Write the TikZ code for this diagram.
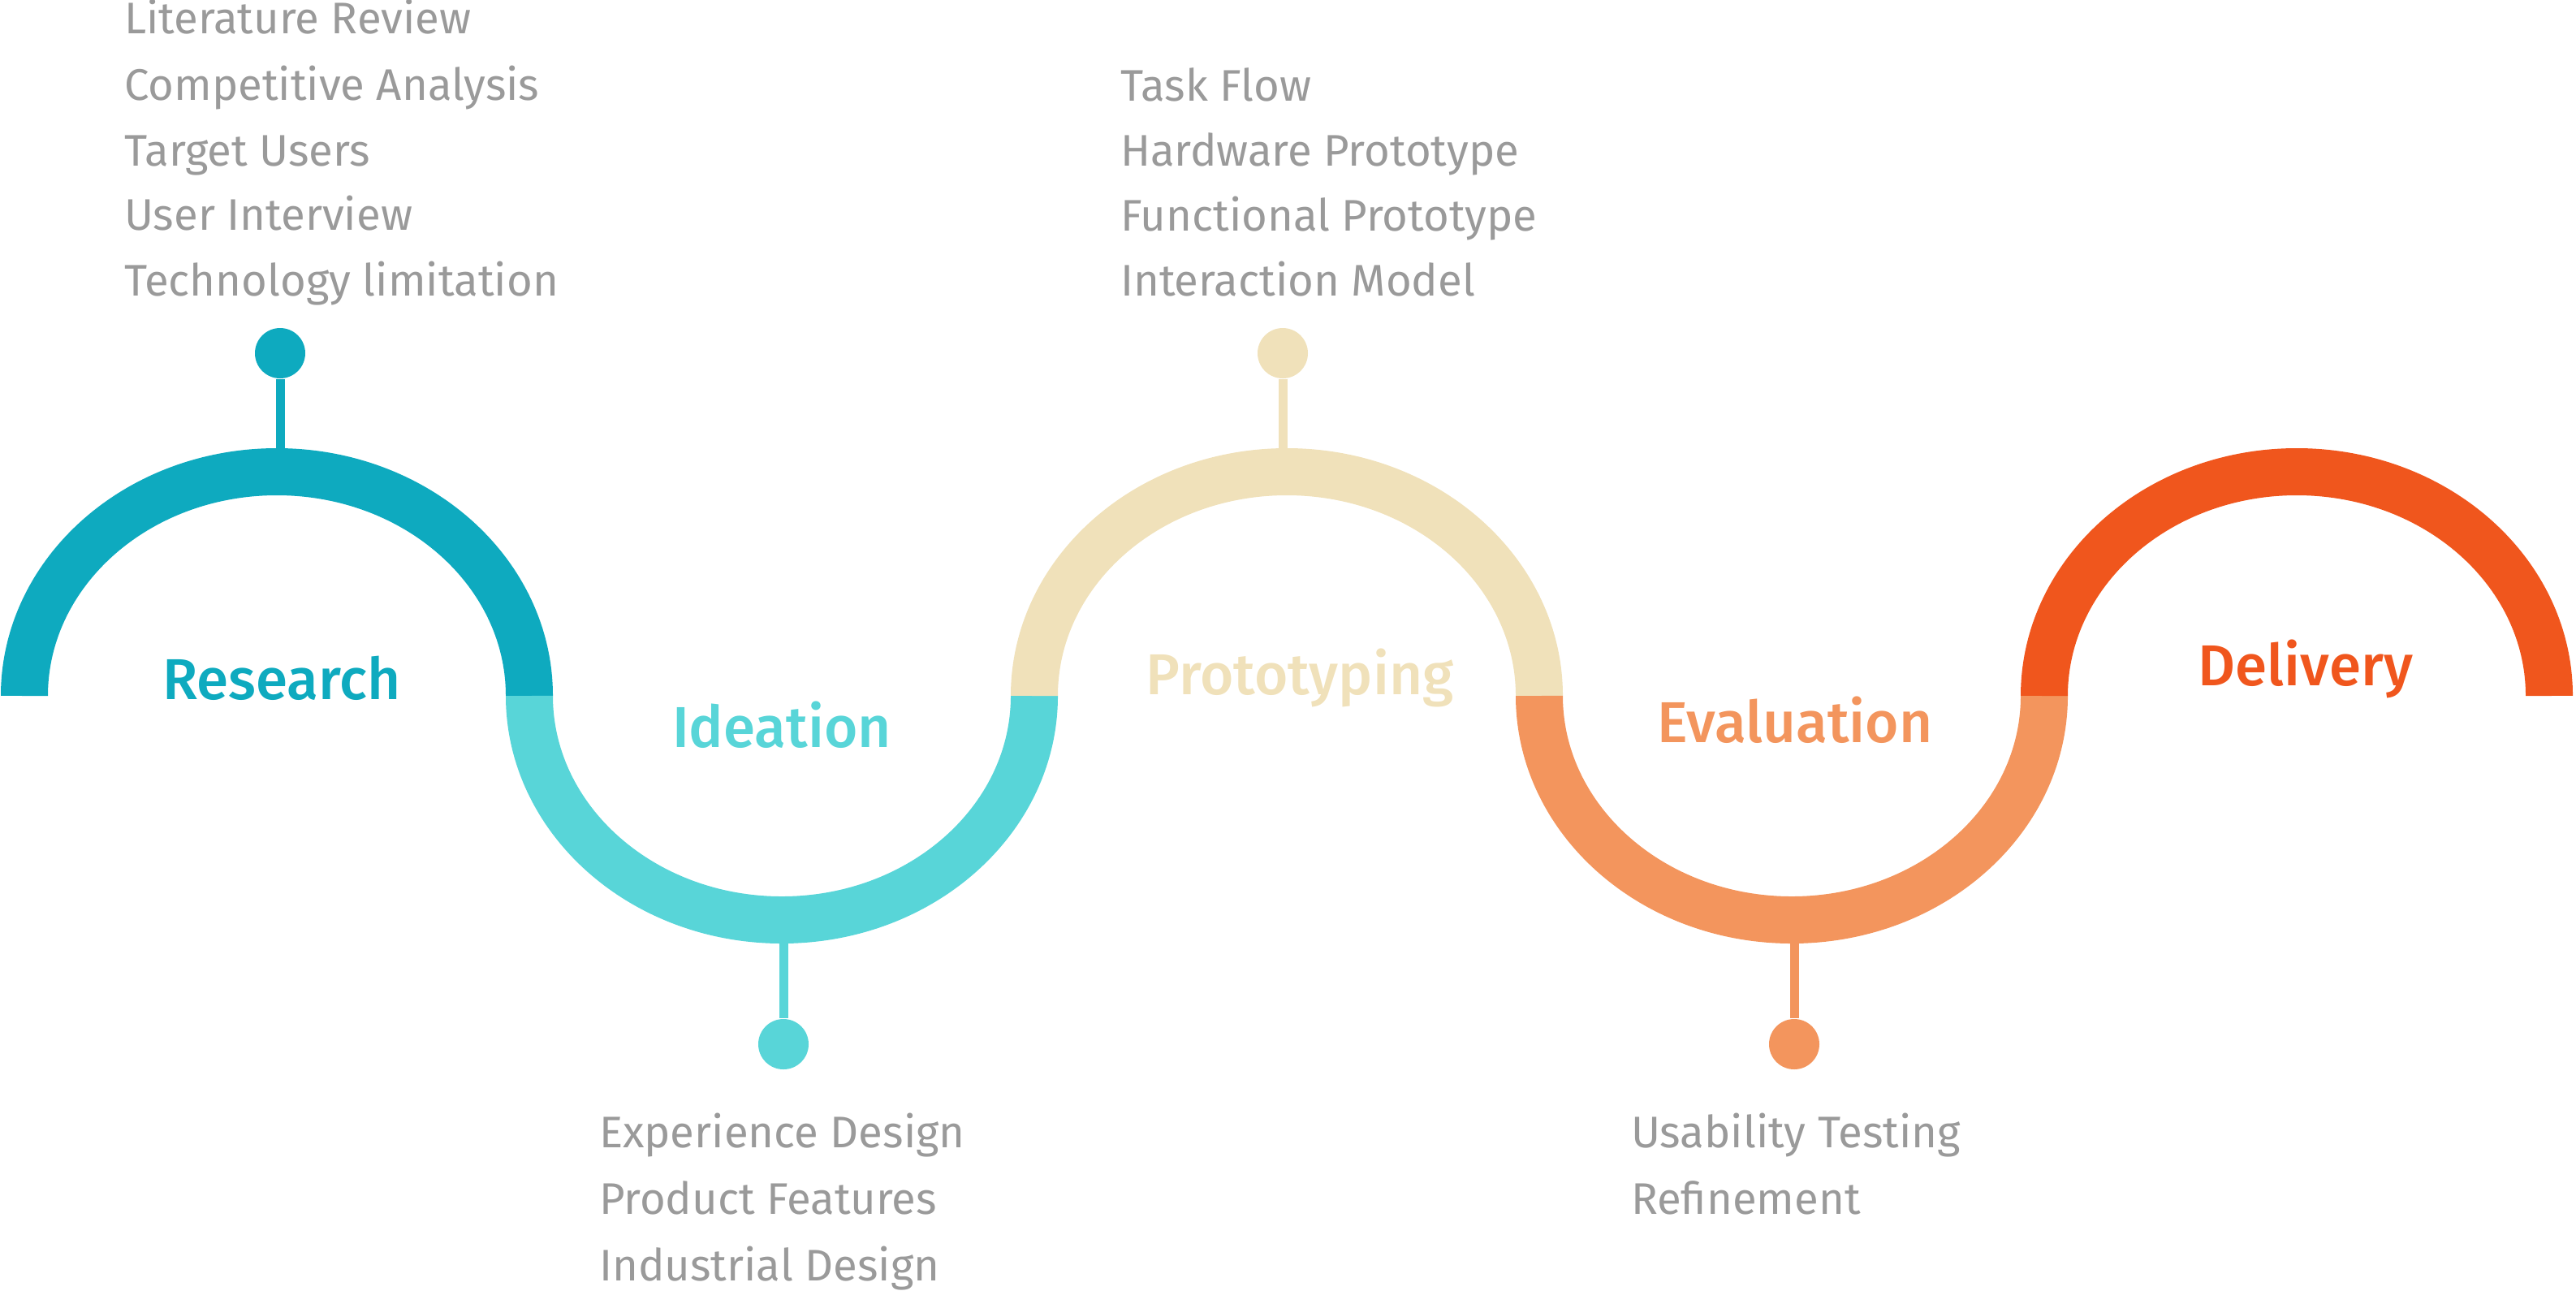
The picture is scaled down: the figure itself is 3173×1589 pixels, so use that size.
\documentclass[tikz,border=0pt]{standalone}
\usepackage{fontspec}
\setmainfont{Fira Sans Medium}
\newfontfamily\listfont{Fira Sans}
\definecolor{cResearch}{HTML}{0EAABF}
\definecolor{cIdeation}{HTML}{58D5D8}
\definecolor{cProto}{HTML}{F0E1BA}
\definecolor{cEval}{HTML}{F3955D}
\definecolor{cDeliv}{HTML}{F0561D}
\definecolor{cList}{HTML}{9A9A9A}
\tikzset{
  band/.style={line width=11.6pt},
  stem/.style={line width=2.2pt},
  pin/.style={circle, inner sep=0pt, minimum size=12.4pt},
  phase/.style={anchor=base, inner sep=0pt, font=\fontsize{14.2pt}{16pt}\selectfont},
  item/.style={anchor=base west, inner sep=0pt, text=cList, font=\listfont\fontsize{10.9pt}{13pt}\selectfont},
  topArc/.style={start angle=180, end angle=0, x radius=62.2pt, y radius=55.2pt},
  botArc/.style={start angle=180, end angle=360, x radius=62.2pt, y radius=55.2pt},
}
\begin{document}
\begin{tikzpicture}[x=0.2pt, y=-0.2pt]
\useasboundingbox (0,0) rectangle (3173,1589);

% points where the pins meet the band
\coordinate (topR) at (345,570);
\coordinate (botI) at (965,1140);
\coordinate (topP) at (1580,570);
\coordinate (botE) at (2210,1140);

% pins
\node[pin, fill=cResearch] (pinR) at (345,435) {};
\node[pin, fill=cIdeation] (pinI) at (965,1286) {};
\node[pin, fill=cProto]    (pinP) at (1580,435) {};
\node[pin, fill=cEval]     (pinE) at (2210,1286) {};
\draw[stem, cResearch] (pinR) -- (topR);
\draw[stem, cIdeation] (pinI) -- (botI);
\draw[stem, cProto]    (pinP) -- (topP);
\draw[stem, cEval]     (pinE) -- (botE);

% the wave, one half-ellipse per phase
\draw[band, cResearch] (30,857)   arc[topArc];
\draw[band, cIdeation] (652,857)  arc[botArc];
\draw[band, cProto]    (1274,857) arc[topArc];
\draw[band, cEval]     (1896,857) arc[botArc];
\draw[band, cDeliv]    (2518,857) arc[topArc];

% phase names
\node[phase, text=cResearch] (lResearch) at (347,861)  {Research};
\node[phase, text=cIdeation] (lIdeation) at (963,920)  {Ideation};
\node[phase, text=cProto]    (lProto)    at (1601,855) {Prototyping};
\node[phase, text=cEval]     (lEval)     at (2211,914) {Evaluation};
\node[phase, text=cDeliv]    (lDeliv)    at (2840,844) {Delivery};

% research activities
\node[item] (r1) at (152,41)  {Literature Review};
\node[item] (r2) at (152,123) {Competitive Analysis};
\node[item] (r3) at (152,204) {Target Users};
\node[item] (r4) at (152,283) {User Interview};
\node[item] (r5) at (152,364) {Technology limitation};

% ideation activities
\node[item] (i1) at (737,1413) {Experience Design};
\node[item] (i2) at (737,1495) {Product Features};
\node[item] (i3) at (737,1577) {Industrial Design};

% prototyping activities
\node[item] (p1) at (1379,124) {Task Flow};
\node[item] (p2) at (1379,204) {Hardware Prototype};
\node[item] (p3) at (1379,284) {Functional Prototype};
\node[item] (p4) at (1379,364) {Interaction Model};

% evaluation activities
\node[item] (e1) at (2008,1413) {Usability Testing};
\node[item] (e2) at (2008,1495) {Refinement};
\end{tikzpicture}
\end{document}
